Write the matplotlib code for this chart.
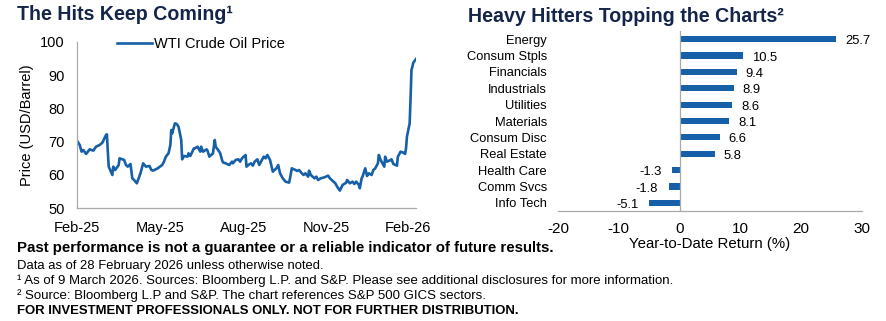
import matplotlib
matplotlib.use("Agg")
import matplotlib.pyplot as plt
import numpy as np
import pandas as pd

# ---------------- data ----------------
oil_dates = [
    "2025-02-28", "2025-03-03", "2025-03-05", "2025-03-07", "2025-03-10", "2025-03-12", "2025-03-14",
    "2025-03-18", "2025-03-21", "2025-03-25", "2025-03-28", "2025-04-01", "2025-04-02", "2025-04-03",
    "2025-04-04", "2025-04-08", "2025-04-09", "2025-04-11", "2025-04-15", "2025-04-16", "2025-04-21",
    "2025-04-23", "2025-04-25", "2025-04-28", "2025-04-30", "2025-05-02", "2025-05-05", "2025-05-07",
    "2025-05-09", "2025-05-12", "2025-05-15", "2025-05-19", "2025-05-21", "2025-05-23", "2025-05-28",
    "2025-06-02", "2025-06-04", "2025-06-06", "2025-06-09", "2025-06-11", "2025-06-12", "2025-06-13",
    "2025-06-16", "2025-06-18", "2025-06-20", "2025-06-23", "2025-06-24", "2025-06-26", "2025-06-30",
    "2025-07-01", "2025-07-03", "2025-07-07", "2025-07-08", "2025-07-11", "2025-07-14", "2025-07-15",
    "2025-07-17", "2025-07-21", "2025-07-22", "2025-07-24", "2025-07-28", "2025-07-29", "2025-07-30",
    "2025-07-31", "2025-08-04", "2025-08-05", "2025-08-07", "2025-08-08", "2025-08-11", "2025-08-15",
    "2025-08-18", "2025-08-19", "2025-08-22", "2025-08-25", "2025-08-27", "2025-08-29", "2025-09-02",
    "2025-09-03", "2025-09-05", "2025-09-08", "2025-09-10", "2025-09-12", "2025-09-15", "2025-09-17",
    "2025-09-19", "2025-09-22", "2025-09-24", "2025-09-26", "2025-09-29", "2025-10-02", "2025-10-06",
    "2025-10-08", "2025-10-10", "2025-10-13", "2025-10-16", "2025-10-20", "2025-10-21", "2025-10-23",
    "2025-10-27", "2025-10-29", "2025-10-31", "2025-11-03", "2025-11-05", "2025-11-07", "2025-11-10",
    "2025-11-11", "2025-11-13", "2025-11-17", "2025-11-19", "2025-11-21", "2025-11-24", "2025-11-28",
    "2025-12-02", "2025-12-04", "2025-12-08", "2025-12-10", "2025-12-12", "2025-12-15", "2025-12-18",
    "2025-12-22", "2025-12-23", "2025-12-26", "2025-12-29", "2025-12-31", "2026-01-02", "2026-01-05",
    "2026-01-06", "2026-01-08", "2026-01-09", "2026-01-12", "2026-01-14", "2026-01-16", "2026-01-19",
    "2026-01-21", "2026-01-23", "2026-01-26", "2026-01-27", "2026-01-29", "2026-02-02", "2026-02-03",
    "2026-02-05", "2026-02-09", "2026-02-10", "2026-02-12", "2026-02-16", "2026-02-17", "2026-02-20",
    "2026-02-23", "2026-02-25", "2026-02-26", "2026-02-27", "2026-03-02", "2026-03-03", "2026-03-04",
    "2026-03-05", "2026-03-06", "2026-03-09",
]
oil_prices = [
    70.3, 69.0, 67.0, 67.5, 66.3, 67.0, 67.7,
    67.3, 68.5, 69.0, 69.7, 72.0, 72.2, 67.0,
    62.5, 60.0, 62.5, 61.5, 63.0, 65.0, 64.5,
    63.0, 62.5, 63.3, 59.0, 58.5, 57.5, 59.0,
    60.5, 63.5, 62.5, 62.7, 61.5, 61.3, 62.0,
    63.0, 64.0, 65.5, 66.5, 69.0, 73.5, 72.5,
    75.5, 75.3, 74.5, 70.5, 64.7, 65.7, 65.5,
    66.5, 65.7, 68.0, 68.0, 68.5, 67.0, 68.5,
    67.0, 67.7, 67.3, 65.5, 66.5, 68.5, 70.5,
    68.5, 67.0, 66.5, 64.5, 63.8, 63.5, 63.0,
    64.0, 63.5, 64.5, 64.7, 64.0, 65.0, 66.0,
    62.5, 63.0, 63.5, 62.8, 64.0, 64.7, 63.0,
    64.0, 65.5, 65.0, 66.0, 64.5, 61.0, 62.0,
    63.0, 60.5, 59.0, 58.0, 57.7, 59.0, 62.0,
    61.5, 61.2, 61.5, 60.5, 60.0, 60.5, 59.5,
    61.3, 60.0, 59.0, 59.5, 58.5, 59.0, 59.3,
    59.8, 59.0, 58.0, 57.5, 56.5, 55.3, 57.0,
    57.7, 58.5, 57.5, 58.0, 57.3, 58.0, 57.0,
    56.0, 59.0, 59.5, 62.0, 59.7, 60.5, 60.0,
    61.5, 62.0, 63.5, 66.0, 64.5, 62.5, 65.5,
    64.0, 64.5, 64.7, 63.3, 62.8, 65.5, 67.0,
    66.7, 66.3, 68.0, 71.5, 75.5, 83.0, 91.5,
    92.5, 93.7, 94.8,
]
oil_tick_dates = ["2025-02-28", "2025-05-31", "2025-08-31", "2025-11-30", "2026-02-28"]
oil_tick_labels = ["Feb-25", "May-25", "Aug-25", "Nov-25", "Feb-26"]
oil_yticks = [50, 60, 70, 80, 90, 100]

sectors = ["Energy", "Consum Stpls", "Financials", "Industrials", "Utilities", "Materials",
           "Consum Disc", "Real Estate", "Health Care", "Comm Svcs", "Info Tech"]
ytd_returns = [25.7, 10.5, 9.4, 8.9, 8.6, 8.1, 6.6, 5.8, -1.3, -1.8, -5.1]
ret_xticks = [-20, -10, 0, 10, 20, 30]

footer_lines = [
    "Past performance is not a guarantee or a reliable indicator of future results.",
    "Data as of 28 February 2026 unless otherwise noted.",
    "\u00b9 As of 9 March 2026. Sources: Bloomberg L.P. and S&P. Please see additional disclosures for more information.",
    "\u00b2 Source: Bloomberg L.P and S&P. The chart references S&P 500 GICS sectors.",
    "FOR INVESTMENT PROFESSIONALS ONLY. NOT FOR FURTHER DISTRIBUTION.",
]

# ---------------- style ----------------
BLUE = "#1560a8"
NAVY = "#15254a"
GRAY = "#a9a9a9"
FONT = ["Liberation Sans", "DejaVu Sans"]
plt.rcParams["font.family"] = FONT
plt.rcParams["axes.unicode_minus"] = False

W, H = 887, 321
fig = plt.figure(figsize=(W / 100, H / 100), dpi=100)


def fx(px):
    return px / W


def fy(py):
    return 1 - py / H


# ---------------- left: oil line ----------------
ax1 = fig.add_axes([fx(77), fy(208.3), fx(416 - 77), (208.3 - 41.7) / H])
ax1.plot(pd.to_datetime(oil_dates), oil_prices, color=BLUE, lw=1.9,
         label="WTI Crude Oil Price", solid_joinstyle="round")
ax1.set_xlim(pd.Timestamp("2025-02-28"), pd.Timestamp("2026-03-09"))
ax1.set_ylim(50, 100)
ax1.set_yticks(oil_yticks)
ax1.set_xticks(pd.to_datetime(oil_tick_dates))
ax1.set_xticklabels(oil_tick_labels)
for s in ["top", "right"]:
    ax1.spines[s].set_visible(False)
for s in ["left", "bottom"]:
    ax1.spines[s].set_color(GRAY)
    ax1.spines[s].set_linewidth(0.9)
ax1.tick_params(axis="both", length=0, labelsize=10.5)
ax1.tick_params(axis="y", pad=9)
ax1.tick_params(axis="x", pad=9)
ax1.set_ylabel("Price (USD/Barrel)", fontsize=10.5, labelpad=4)
ax1.legend(loc="center left", bbox_to_anchor=(0.118, 0.988), frameon=False,
           fontsize=10.5, handlelength=2.4, handletextpad=0.15, borderpad=0,
           borderaxespad=0)

# ---------------- right: sector bars ----------------
ax2 = fig.add_axes([fx(558), fy(211), fx(862 - 558), (211 - 31) / H])
ypos = np.arange(len(sectors))
ax2.barh(ypos, ytd_returns, height=0.38, color=BLUE)
ax2.set_ylim(len(sectors) - 0.5, -0.5)
ax2.set_xlim(-20, 30)
ax2.set_xticks(ret_xticks)
ax2.set_yticks(ypos)
ax2.set_yticklabels(sectors)
ax2.axvline(0, color=GRAY, lw=0.9)
for s in ["top", "right", "left"]:
    ax2.spines[s].set_visible(False)
ax2.spines["bottom"].set_color(GRAY)
ax2.spines["bottom"].set_linewidth(0.9)
ax2.tick_params(axis="y", length=0, labelsize=9.3, pad=8)
ax2.tick_params(axis="x", length=0, labelsize=11, pad=8)
ax2.set_xlabel("Year-to-Date Return (%)", fontsize=10.8, labelpad=0.5)
for yi, v in zip(ypos, ytd_returns):
    ax2.annotate(f"{v}", xy=(v, yi), xytext=(6.5 if v > 0 else -7.5, -1.5),
                 textcoords="offset points", ha="left" if v > 0 else "right",
                 va="center", fontsize=9.4)

# ---------------- titles ----------------
fig.text(fx(17), fy(15), "The Hits Keep Coming\u00b9", fontsize=14.1, fontweight="bold",
         color=NAVY, va="center", ha="left")
fig.text(fx(468), fy(16), "Heavy Hitters Topping the Charts\u00b2", fontsize=14.1,
         fontweight="bold", color=NAVY, va="center", ha="left")

# ---------------- footer (fit to reference widths) ----------------
footer_y = [248, 266, 281, 296, 311]
footer_w = [539, 306, 659, 474, 500]
footer_bold = [True, False, False, False, True]
renderer = fig.canvas.get_renderer()
for txt, yy, ww, bold in zip(footer_lines, footer_y, footer_w, footer_bold):
    t = fig.text(fx(17), fy(yy), txt, fontweight="bold" if bold else "normal",
                 fontsize=10, va="center", ha="left")
    w = t.get_window_extent(renderer=renderer).width
    t.set_fontsize(10 * ww / w)

fig.savefig("out.png", dpi=100)
